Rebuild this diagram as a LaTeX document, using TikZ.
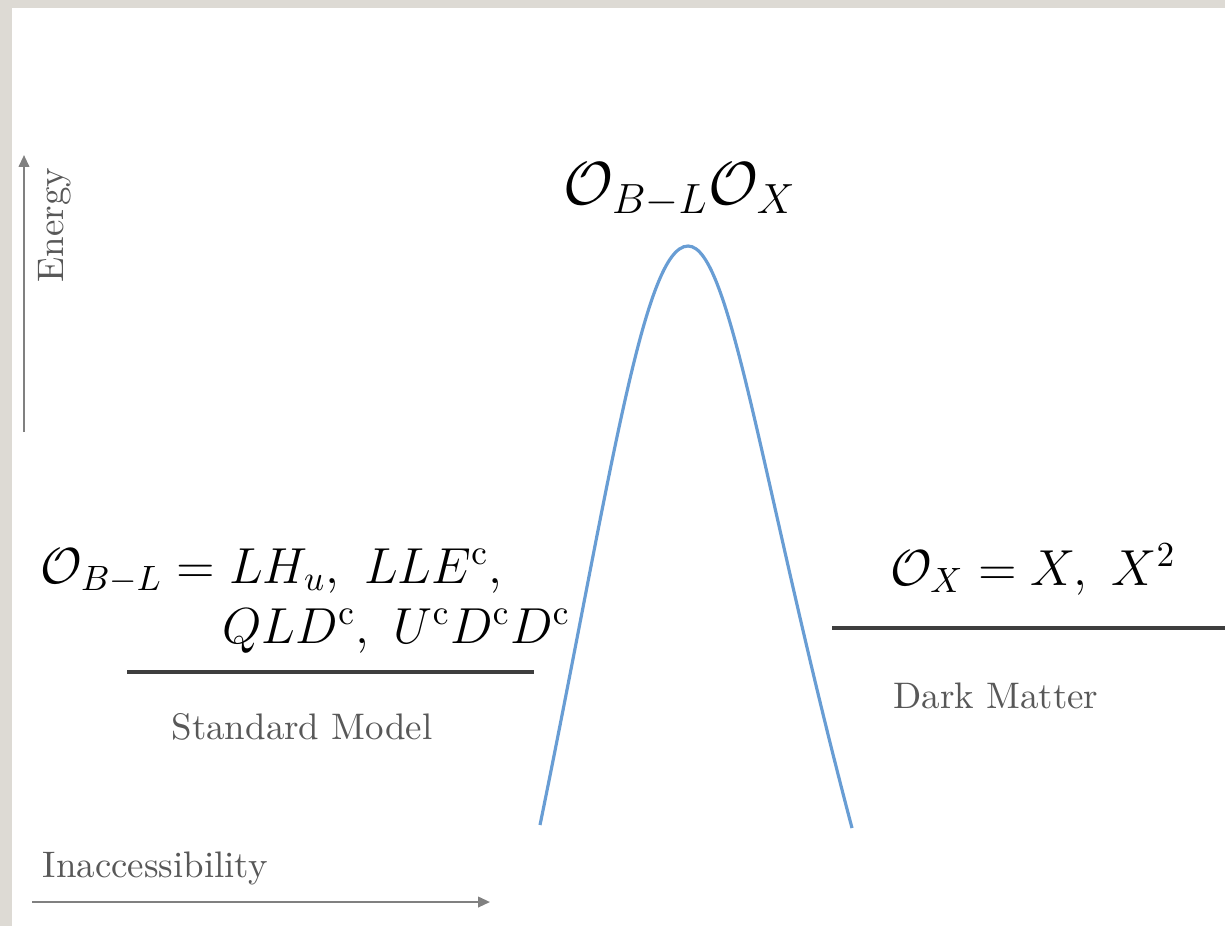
\documentclass[tikz,border=0pt]{standalone}
\usepackage{tikz}
\usetikzlibrary{arrows.meta,positioning}
\usepackage{amsmath,amssymb}
\usepackage{xcolor}
\definecolor{slidegray}{RGB}{221,218,212}
\definecolor{barrierblue}{RGB}{104,157,212}
\definecolor{labelgray}{RGB}{88,88,88}
\definecolor{levelgray}{RGB}{62,62,62}

\begin{document}
\begin{tikzpicture}[x=0.01cm, y=-0.01cm,
  every node/.style={inner sep=0pt},
  lbl/.style={text=labelgray, font=\fontsize{10.5}{12}\selectfont},
  mth/.style={font=\fontsize{14}{16}\selectfont},
  level/.style={draw=levelgray, line width=0.9pt},
  axis/.style={draw=gray, line width=0.6pt, -{Triangle[length=3.4pt,width=3pt]}}]
  % slide background
  \fill[slidegray] (0,0) rectangle (1225,926);
  \fill[white] (12,8) rectangle (1225,926);
  \useasboundingbox (0,0) rectangle (1225,926);

  % axes
  \coordinate (e0) at (24,432);
  \coordinate (e1) at (24,155);
  \draw[axis] (e0) -- (e1);
  \node[lbl, rotate=90] (energy) at (55,225) {Energy};
  \coordinate (i0) at (32,902);
  \coordinate (i1) at (490,902);
  \draw[axis] (i0) -- (i1);
  \node[lbl, anchor=base west] (inacc) at (42,877) {Inaccessibility};

  % barrier
  \coordinate (sl) at (540,825);
  \coordinate (pk) at (688,246);
  \coordinate (sr) at (852,828);
  \draw[barrierblue, line width=0.9pt]
    (sl) .. controls (609,488) and (643,246) .. (pk)
         .. controls (731,246) and (762,488) .. (sr);
  \node[font=\fontsize{18}{21}\selectfont] (obx) at (680,190) {$\mathcal{O}_{B-L}\mathcal{O}_X$};

  % standard model side
  \coordinate (sm0) at (127,672);
  \coordinate (sm1) at (534,672);
  \draw[level] (sm0) -- (sm1);
  \node[mth, anchor=base west] (obl) at (40,583) {$\mathcal{O}_{B-L} = LH_u,\ LLE^{\mathrm{c}},$};
  \node[mth, anchor=base west] (qld) at (222,643) {$QLD^{\mathrm{c}},\ U^{\mathrm{c}}D^{\mathrm{c}}D^{\mathrm{c}}$};
  \node[lbl] (sm) at (302,727) {Standard Model};

  % dark matter side
  \coordinate (dm0) at (832,628);
  \coordinate (dm1) at (1225,628);
  \draw[level] (dm0) -- (dm1);
  \node[mth, anchor=base] (ox) at (1033,585) {$\mathcal{O}_X = X,\ X^2$};
  \node[lbl] (dm) at (996,696) {Dark Matter};
\end{tikzpicture}
\end{document}
